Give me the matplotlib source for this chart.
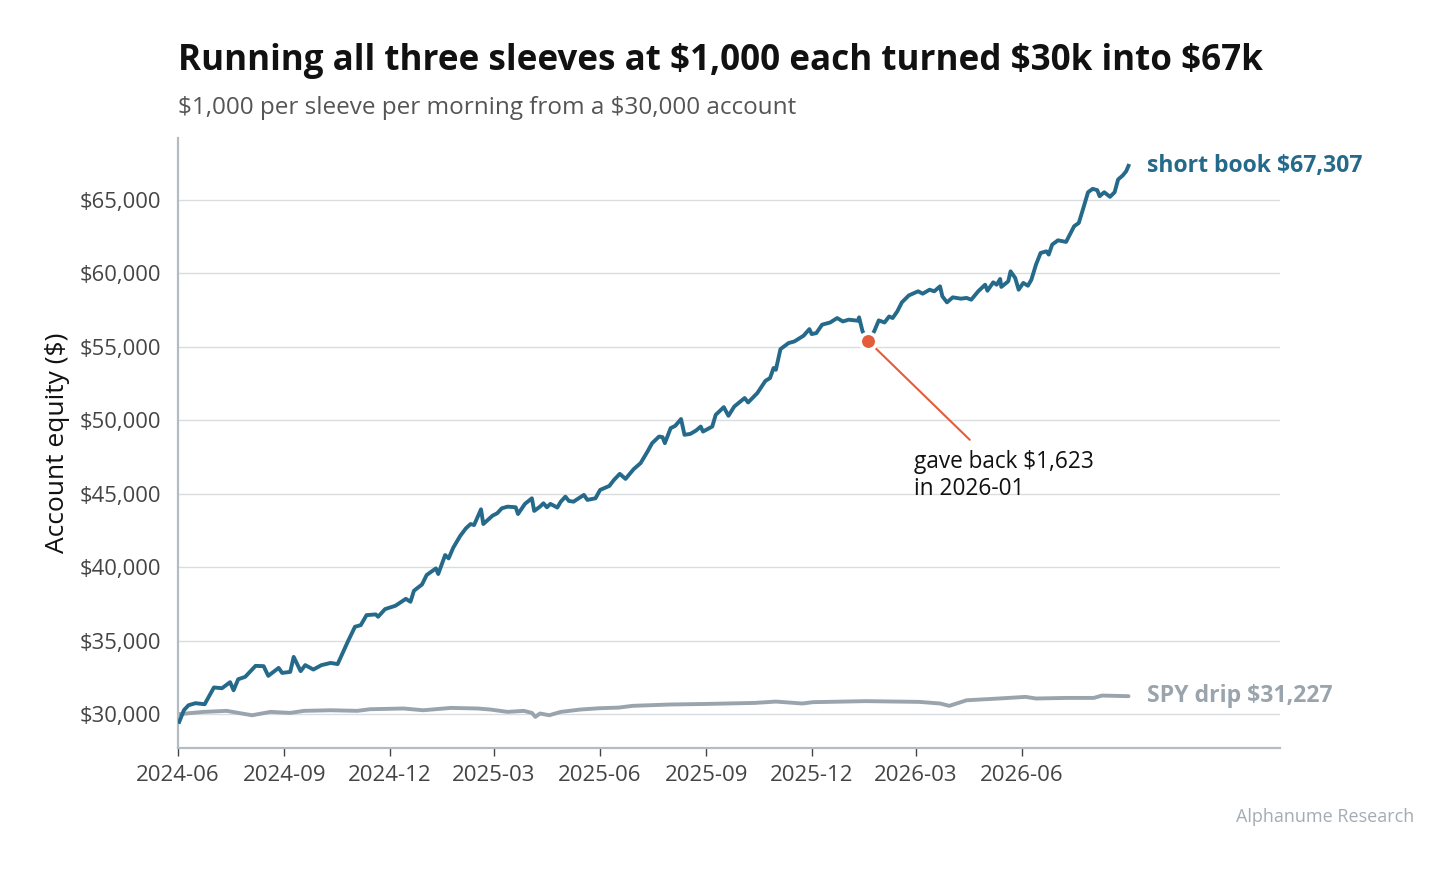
import pandas as pd
import matplotlib
matplotlib.use("Agg")
import matplotlib.pyplot as plt
import matplotlib.dates as mdates
from matplotlib.ticker import FuncFormatter

plt.rcParams['font.family'] = ['Open Sans', 'Noto Sans', 'DejaVu Sans']

start = pd.Timestamp("2024-06-01")

# short book equity (day offset from start, dollars)
book_days = [1, 5, 9, 15, 23, 31, 38, 45, 48, 52, 58, 67, 74, 78, 87, 90, 97, 100,
             106, 110, 117, 124, 132, 138, 147, 153, 158, 163, 171, 173, 179, 188,
             197, 201, 204, 211, 215, 223, 225, 231, 234, 238, 244, 249, 253, 256,
             262, 264, 272, 276, 280, 285, 292, 294, 300, 306, 308, 313, 316, 319,
             322, 328, 331, 335, 338, 342, 351, 354, 361, 365, 373, 377, 382, 387,
             394, 400, 406, 410, 416, 419, 421, 426, 430, 435, 438, 443, 448, 452,
             454, 462, 465, 472, 476, 481, 490, 493, 501, 508, 512, 515, 517, 521,
             528, 533, 541, 546, 548, 552, 557, 564, 570, 575, 580, 588, 589, 592,
             597, 602, 606, 611, 615, 618, 622, 626, 632, 640, 644, 650, 654, 659,
             661, 665, 670, 677, 682, 686, 692, 698, 700, 705, 708, 711, 712, 718,
             720, 724, 727, 731, 735, 738, 742, 746, 751, 753, 756, 761, 768, 775,
             779, 783, 787, 791, 795, 797, 801, 806, 810, 813, 817, 820, 822]
book_vals = [29480, 30270, 30610, 30750, 30680, 31820, 31770, 32180, 31630, 32380,
             32540, 33290, 33270, 32610, 33150, 32810, 32880, 33900, 32930, 33340,
             33040, 33340, 33490, 33410, 34970, 35950, 36060, 36740, 36790, 36630,
             37150, 37380, 37850, 37650, 38400, 38830, 39470, 39920, 39540, 40830,
             40600, 41330, 42130, 42650, 42940, 42870, 43940, 42940, 43510, 43670,
             44010, 44120, 44080, 43620, 44310, 44690, 43830, 44120, 44350, 44080,
             44310, 44060, 44460, 44800, 44510, 44460, 44920, 44580, 44690, 45260,
             45530, 45940, 46350, 46010, 46670, 47080, 47870, 48440, 48890, 48850,
             48440, 49460, 49620, 50080, 49010, 49070, 49300, 49570, 49230, 49570,
             50370, 50890, 50300, 50930, 51510, 51210, 51850, 52680, 52870, 53550,
             53430, 54840, 55250, 55360, 55750, 56200, 55860, 55930, 56500, 56650,
             56950, 56720, 56840, 56770, 57000, 56040, 55377, 56040, 56790, 56650,
             57060, 56950, 57400, 58020, 58490, 58770, 58610, 58880, 58770, 59110,
             58430, 58020, 58360, 58270, 58320, 58200, 58770, 59220, 58810, 59380,
             59220, 59610, 59070, 59450, 60130, 59680, 58880, 59340, 59150, 59560,
             60590, 61380, 61490, 61270, 61950, 62240, 62130, 63200, 63420, 64450,
             65510, 65740, 65650, 65240, 65510, 65200, 65510, 66380, 66650, 66940,
             67307]

# SPY drip benchmark
spy_days = [0, 22, 42, 55, 64, 80, 97, 109, 132, 155, 166, 195, 212, 236, 259, 270,
            285, 299, 306, 309, 313, 321, 331, 348, 365, 381, 393, 425, 457, 499,
            517, 540, 549, 595, 641, 659, 667, 682, 710, 733, 742, 769, 792, 799, 822]
spy_vals = [30000, 30160, 30230, 30050, 29930, 30160, 30090, 30230, 30270, 30230,
            30340, 30390, 30270, 30430, 30390, 30320, 30160, 30230, 30090, 29820,
            30050, 29930, 30160, 30320, 30410, 30450, 30570, 30660, 30700, 30770,
            30860, 30730, 30820, 30890, 30840, 30730, 30570, 30950, 31070, 31180,
            31070, 31110, 31110, 31270, 31227]

tick_months = ["2024-06", "2024-09", "2024-12", "2025-03", "2025-06",
               "2025-09", "2025-12", "2026-03", "2026-06"]
y_ticks = [30000, 35000, 40000, 45000, 50000, 55000, 60000, 65000]

BLUE = "#256a8a"
GREY = "#9aa4ad"
RED = "#e45d3a"

book = pd.Series(book_vals, index=start + pd.to_timedelta(book_days, unit="D"))
spy = pd.Series(spy_vals, index=start + pd.to_timedelta(spy_days, unit="D"))

fig = plt.figure(figsize=(14.56, 8.69), dpi=100)
ax = fig.add_axes([0.1223, 0.1392, 0.7568, 0.702])

ax.plot(spy.index, spy.values, color=GREY, lw=2.8, solid_capstyle="round", zorder=2)
ax.plot(book.index, book.values, color=BLUE, lw=2.8, solid_joinstyle="round", zorder=3)

# worst month trough
peak_date = book.loc[:"2026-01-20"].idxmax()
trough_date = book.loc[peak_date:"2026-02-15"].idxmin()
given_back = book[peak_date] - book[trough_date]
ax.scatter([trough_date], [book[trough_date]], s=140, color=RED,
           edgecolor="white", linewidth=2.5, zorder=5)
ax.annotate("", xy=(trough_date, book[trough_date]), xytext=(73, -71),
            textcoords="offset points",
            arrowprops=dict(arrowstyle="-", color=RED, lw=1.5, shrinkA=0, shrinkB=0),
            zorder=4)
ax.annotate(f"gave back \\${given_back:,.0f}\nin 2026-01",
            xy=(trough_date, book[trough_date]), xytext=(33, -78),
            textcoords="offset points", ha="left", va="top",
            fontsize=16.3, color="#111111", linespacing=1.2)

# end labels
ax.annotate(f"short book \\${book.iloc[-1]:,.0f}", xy=(book.index[-1], book.iloc[-1]),
            xytext=(13, 0), textcoords="offset points", va="center", ha="left",
            fontsize=16.6, fontweight="bold", color=BLUE)
ax.annotate(f"SPY drip \\${spy.iloc[-1]:,.0f}", xy=(spy.index[-1], spy.iloc[-1]),
            xytext=(13, 0), textcoords="offset points", va="center", ha="left",
            fontsize=16.6, fontweight="bold", color=GREY)

ax.set_xlim(start, pd.Timestamp("2027-01-10"))
ax.set_ylim(27700, 69200)
ax.set_xticks([pd.Timestamp(m + "-01") for m in tick_months])
ax.xaxis.set_major_formatter(mdates.DateFormatter("%Y-%m"))
ax.set_yticks(y_ticks)
ax.yaxis.set_major_formatter(FuncFormatter(lambda v, p: f"\\${v:,.0f}"))

ax.grid(axis="y", color="#dadde0", lw=1)
ax.set_axisbelow(True)
for s in ["top", "right"]:
    ax.spines[s].set_visible(False)
for s in ["left", "bottom"]:
    ax.spines[s].set_color("#b4bcc3")
    ax.spines[s].set_linewidth(1.6)
ax.tick_params(axis="x", length=6, width=1, color="#444444", labelsize=16,
               labelcolor="#444444", pad=6)
ax.tick_params(axis="y", length=0, labelsize=15.8, labelcolor="#444444", pad=12)
ax.set_ylabel("Account equity (\\$)", fontsize=19, color="#111111", labelpad=7)

fig.text(0.1223, 0.930, "Running all three sleeves at \\$1,000 each turned \\$30k into \\$67k",
         fontsize=25.2, fontweight="bold", color="#111111", va="center")
fig.text(0.1223, 0.876, "\\$1,000 per sleeve per morning from a \\$30,000 account",
         fontsize=17.5, color="#555555", va="center")
fig.text(0.971, 0.06, "Alphanume Research", fontsize=13, color="#a3acb4",
         ha="right", va="center")

fig.savefig("out.png", dpi=100)
